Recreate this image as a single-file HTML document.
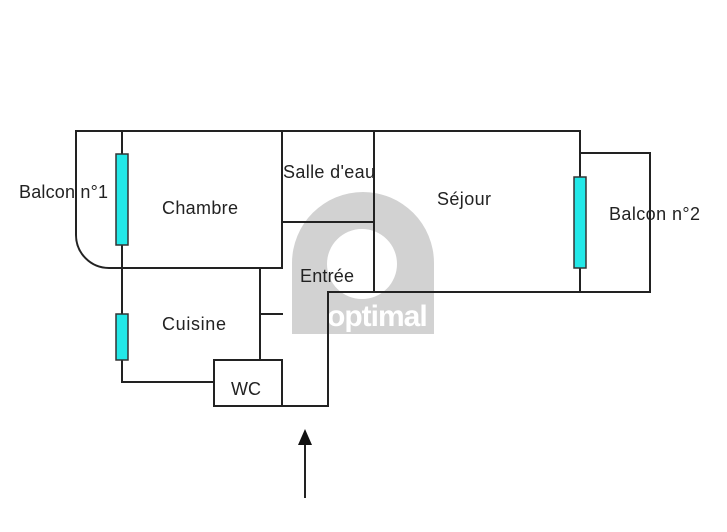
<!DOCTYPE html>
<html><head><meta charset="utf-8"><style>
html,body{margin:0;padding:0;background:#fff;}
svg{display:block;}
text{font-family:"Liberation Sans",sans-serif;font-size:18px;fill:#222;}
</style></head><body>
<svg width="727" height="532" viewBox="0 0 727 532" xmlns="http://www.w3.org/2000/svg">
<rect width="727" height="532" fill="#fff"/>
<path d="M292 263 A71 71 0 0 1 434 263 L434 334 L292 334 Z" fill="#d2d2d2"/>
<circle cx="362" cy="264" r="35" fill="#fff"/>
<text x="327" y="326" style="font-size:30px;font-weight:bold;fill:#fff;letter-spacing:-1px">optimal</text>
<g stroke="#222" stroke-width="2" fill="none" stroke-linecap="square">
<line x1="76" y1="131" x2="580" y2="131"/>
<path d="M76 131 L76 235 A33 33 0 0 0 109 268 L122 268"/>
<line x1="122" y1="131" x2="122" y2="382"/>
<line x1="122" y1="268" x2="282" y2="268"/>
<line x1="282" y1="131" x2="282" y2="268"/>
<line x1="282" y1="222" x2="374" y2="222"/>
<line x1="374" y1="131" x2="374" y2="292"/>
<line x1="328" y1="292" x2="650" y2="292"/>
<line x1="580" y1="131" x2="580" y2="292"/>
<line x1="580" y1="153" x2="650" y2="153"/>
<line x1="650" y1="153" x2="650" y2="292"/>
<line x1="260" y1="268" x2="260" y2="360"/>
<line x1="260" y1="314" x2="282" y2="314"/>
<line x1="122" y1="382" x2="214" y2="382"/>
<rect x="214" y="360" width="68" height="46"/>
<line x1="282" y1="406" x2="328" y2="406"/>
<line x1="328" y1="292" x2="328" y2="406"/>
<line x1="305" y1="444" x2="305" y2="497"/>
</g>
<polygon points="305,429 298,445 312,445" fill="#111"/>
<g fill="#22e8e8" stroke="#333" stroke-width="1.5">
<rect x="116" y="154" width="12" height="91"/>
<rect x="116" y="314" width="12" height="46"/>
<rect x="574" y="177" width="12" height="91"/>
</g>
<text x="19" y="198" textLength="89">Balcon n°1</text>
<text x="162" y="214" textLength="76">Chambre</text>
<text x="283" y="178" textLength="92">Salle d'eau</text>
<text x="437" y="205" textLength="54">Séjour</text>
<text x="609" y="220" textLength="91">Balcon n°2</text>
<text x="300" y="282" textLength="54">Entrée</text>
<text x="162" y="330" textLength="64">Cuisine</text>
<text x="231" y="395" textLength="30">WC</text>
</svg>
</body></html>
